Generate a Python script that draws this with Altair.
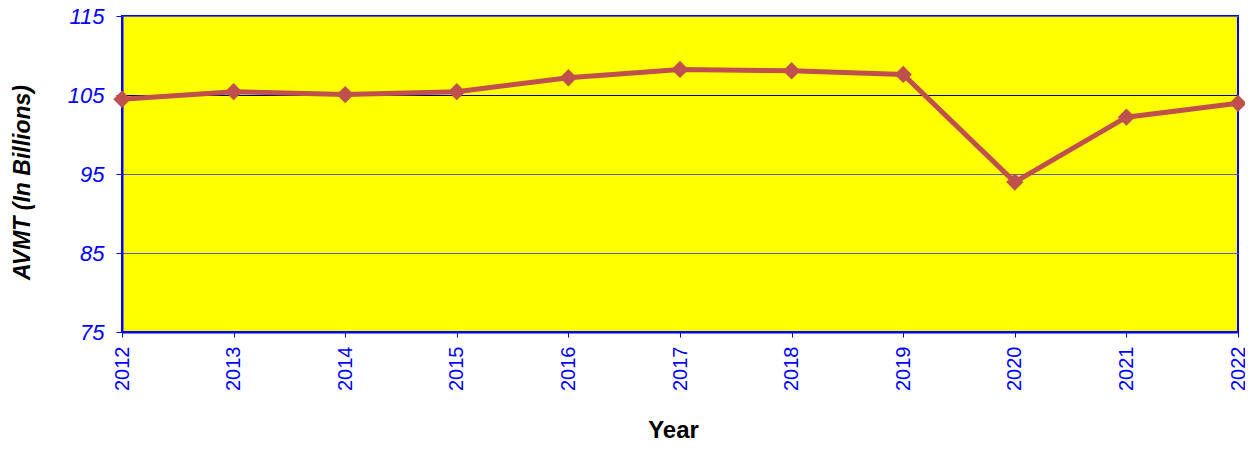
import altair as alt
import pandas as pd

years = [2012, 2013, 2014, 2015, 2016, 2017, 2018, 2019, 2020, 2021, 2022]
avmt = [104.46, 105.42, 105.05, 105.42, 107.18, 108.24, 108.07, 107.61, 93.98, 102.19, 103.95]
y_ticks = [75, 85, 95, 105, 115]

df = pd.DataFrame({"Year": years, "AVMT": avmt})

FONT = "Liberation Sans"
BLUE = "#0000ff"
LINE = "#c0504d"

x = alt.X(
    "Year:Q",
    scale=alt.Scale(domain=[2012, 2022], nice=False, zero=False),
    axis=alt.Axis(
        title="Year",
        values=years,
        format="d",
        labelAngle=-90,
        labelColor=BLUE,
        labelFont=FONT,
        labelFontSize=20,
        labelPadding=9,
        tickColor=BLUE,
        tickSize=5,
        domainColor=BLUE,
        domainWidth=2,
        grid=False,
        titleFont=FONT,
        titleFontSize=24,
        titleFontWeight="bold",
        titleColor="black",
        titleX=551,
        titleY=98,
        titleBaseline="middle",
    ),
)

y = alt.Y(
    "AVMT:Q",
    scale=alt.Scale(domain=[75, 115], nice=False, zero=False),
    axis=alt.Axis(
        title="AVMT (In Billions)",
        values=y_ticks,
        labelColor=BLUE,
        labelFont=FONT,
        labelFontSize=22,
        labelFontStyle="italic",
        labelPadding=12,
        tickColor=BLUE,
        tickSize=6,
        domainColor=BLUE,
        domainWidth=2,
        grid=True,
        gridColor=alt.condition(alt.datum.value == 105, alt.value("#000080"), alt.value("#6060b0")),
        gridWidth=1,
        titleFont=FONT,
        titleFontSize=23,
        titleFontWeight="bold",
        titleFontStyle="italic",
        titleColor="black",
        titleX=-100,
        titleY=166,
        titleBaseline="middle",
        titleAngle=-90,
    ),
)

line = alt.Chart(df).mark_line(color=LINE, strokeWidth=5, clip=False).encode(x=x, y=y)
pts = alt.Chart(df).mark_point(
    shape="diamond", filled=True, color=LINE, size=300, opacity=1, clip=False
).encode(x="Year:Q", y="AVMT:Q")

chart = (
    alt.layer(line, pts)
    .properties(
        width=1116,
        height=316,
        autosize=alt.AutoSizeParams(type="none"),
        padding={"left": 114, "top": 8, "right": 7, "bottom": 118},
        background="white",
    )
    .configure_view(fill="#ffff00", stroke=BLUE, strokeWidth=2)
)

chart.save("out.html", embed_options={"renderer": "svg", "actions": False})
